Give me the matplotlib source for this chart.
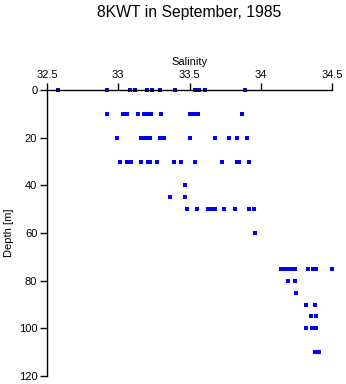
import matplotlib
matplotlib.use("Agg")
import matplotlib.pyplot as plt

plt.rcParams['font.family'] = ['Liberation Sans', 'DejaVu Sans']

depth_0 = [32.58, 32.92, 33.08, 33.12, 33.20, 33.24, 33.29, 33.40, 33.54, 33.57, 33.61, 33.89]
depth_10 = [32.92, 33.03, 33.06, 33.14, 33.18, 33.20, 33.23, 33.30, 33.50, 33.53, 33.56, 33.87]
depth_20 = [32.99, 33.16, 33.19, 33.21, 33.22, 33.29, 33.32, 33.50, 33.68, 33.78, 33.83, 33.90]
depth_30 = [33.01, 33.06, 33.09, 33.16, 33.21, 33.22, 33.27, 33.39, 33.44, 33.54, 33.73, 33.83, 33.85, 33.92]
depth_40 = [33.47]
depth_45 = [33.36, 33.47]
depth_50 = [33.48, 33.55, 33.63, 33.66, 33.68, 33.74, 33.82, 33.92, 33.95]
depth_60 = [33.96]
depth_75 = [34.14, 34.16, 34.18, 34.20, 34.22, 34.24, 34.33, 34.37, 34.39, 34.50]
depth_80 = [34.19, 34.24]
depth_85 = [34.25]
depth_90 = [34.32, 34.38]
depth_95 = [34.35, 34.39]
depth_100 = [34.32, 34.36, 34.39]
depth_110 = [34.38, 34.40, 34.41]

levels = [0, 10, 20, 30, 40, 45, 50, 60, 75, 80, 85, 90, 95, 100, 110]
salinities = [depth_0, depth_10, depth_20, depth_30, depth_40, depth_45, depth_50,
              depth_60, depth_75, depth_80, depth_85, depth_90, depth_95, depth_100, depth_110]

xticks = [32.5, 33, 33.5, 34, 34.5]
xticklabels = ["32.5", "33", "33.5", "34", "34.5"]
yticks = [0, 20, 40, 60, 80, 100, 120]

fig = plt.figure(figsize=(3.46, 3.84), dpi=100)
ax = fig.add_axes([47/346, 1-376/384, (332-47)/346, (376-90)/384])

for d, sal in zip(levels, salinities):
    ax.plot(sal, [d]*len(sal), linestyle='none', marker='s', markersize=2.2,
            color='#0000ff', markeredgewidth=0, clip_on=False)

ax.set_xlim(32.5, 34.5)
ax.set_ylim(120, 0)
ax.xaxis.tick_top()
ax.xaxis.set_label_position('top')
ax.set_xticks(xticks)
ax.set_xticklabels(xticklabels)
ax.set_yticks(yticks)
ax.spines['right'].set_visible(False)
ax.spines['bottom'].set_visible(False)
for s in ['top', 'left']:
    ax.spines[s].set_linewidth(1.0)
ax.tick_params(axis='both', direction='out', length=5, width=1.0, labelsize=8, pad=2)
ax.set_xlabel('Salinity', fontsize=8, labelpad=4)
ax.set_ylabel('Depth [m]', fontsize=8, labelpad=3)

fig.text(189.5/346, 1-12/384, '8KWT in September, 1985', ha='center', va='center', fontsize=11.3)

fig.savefig('out.png', dpi=100)
